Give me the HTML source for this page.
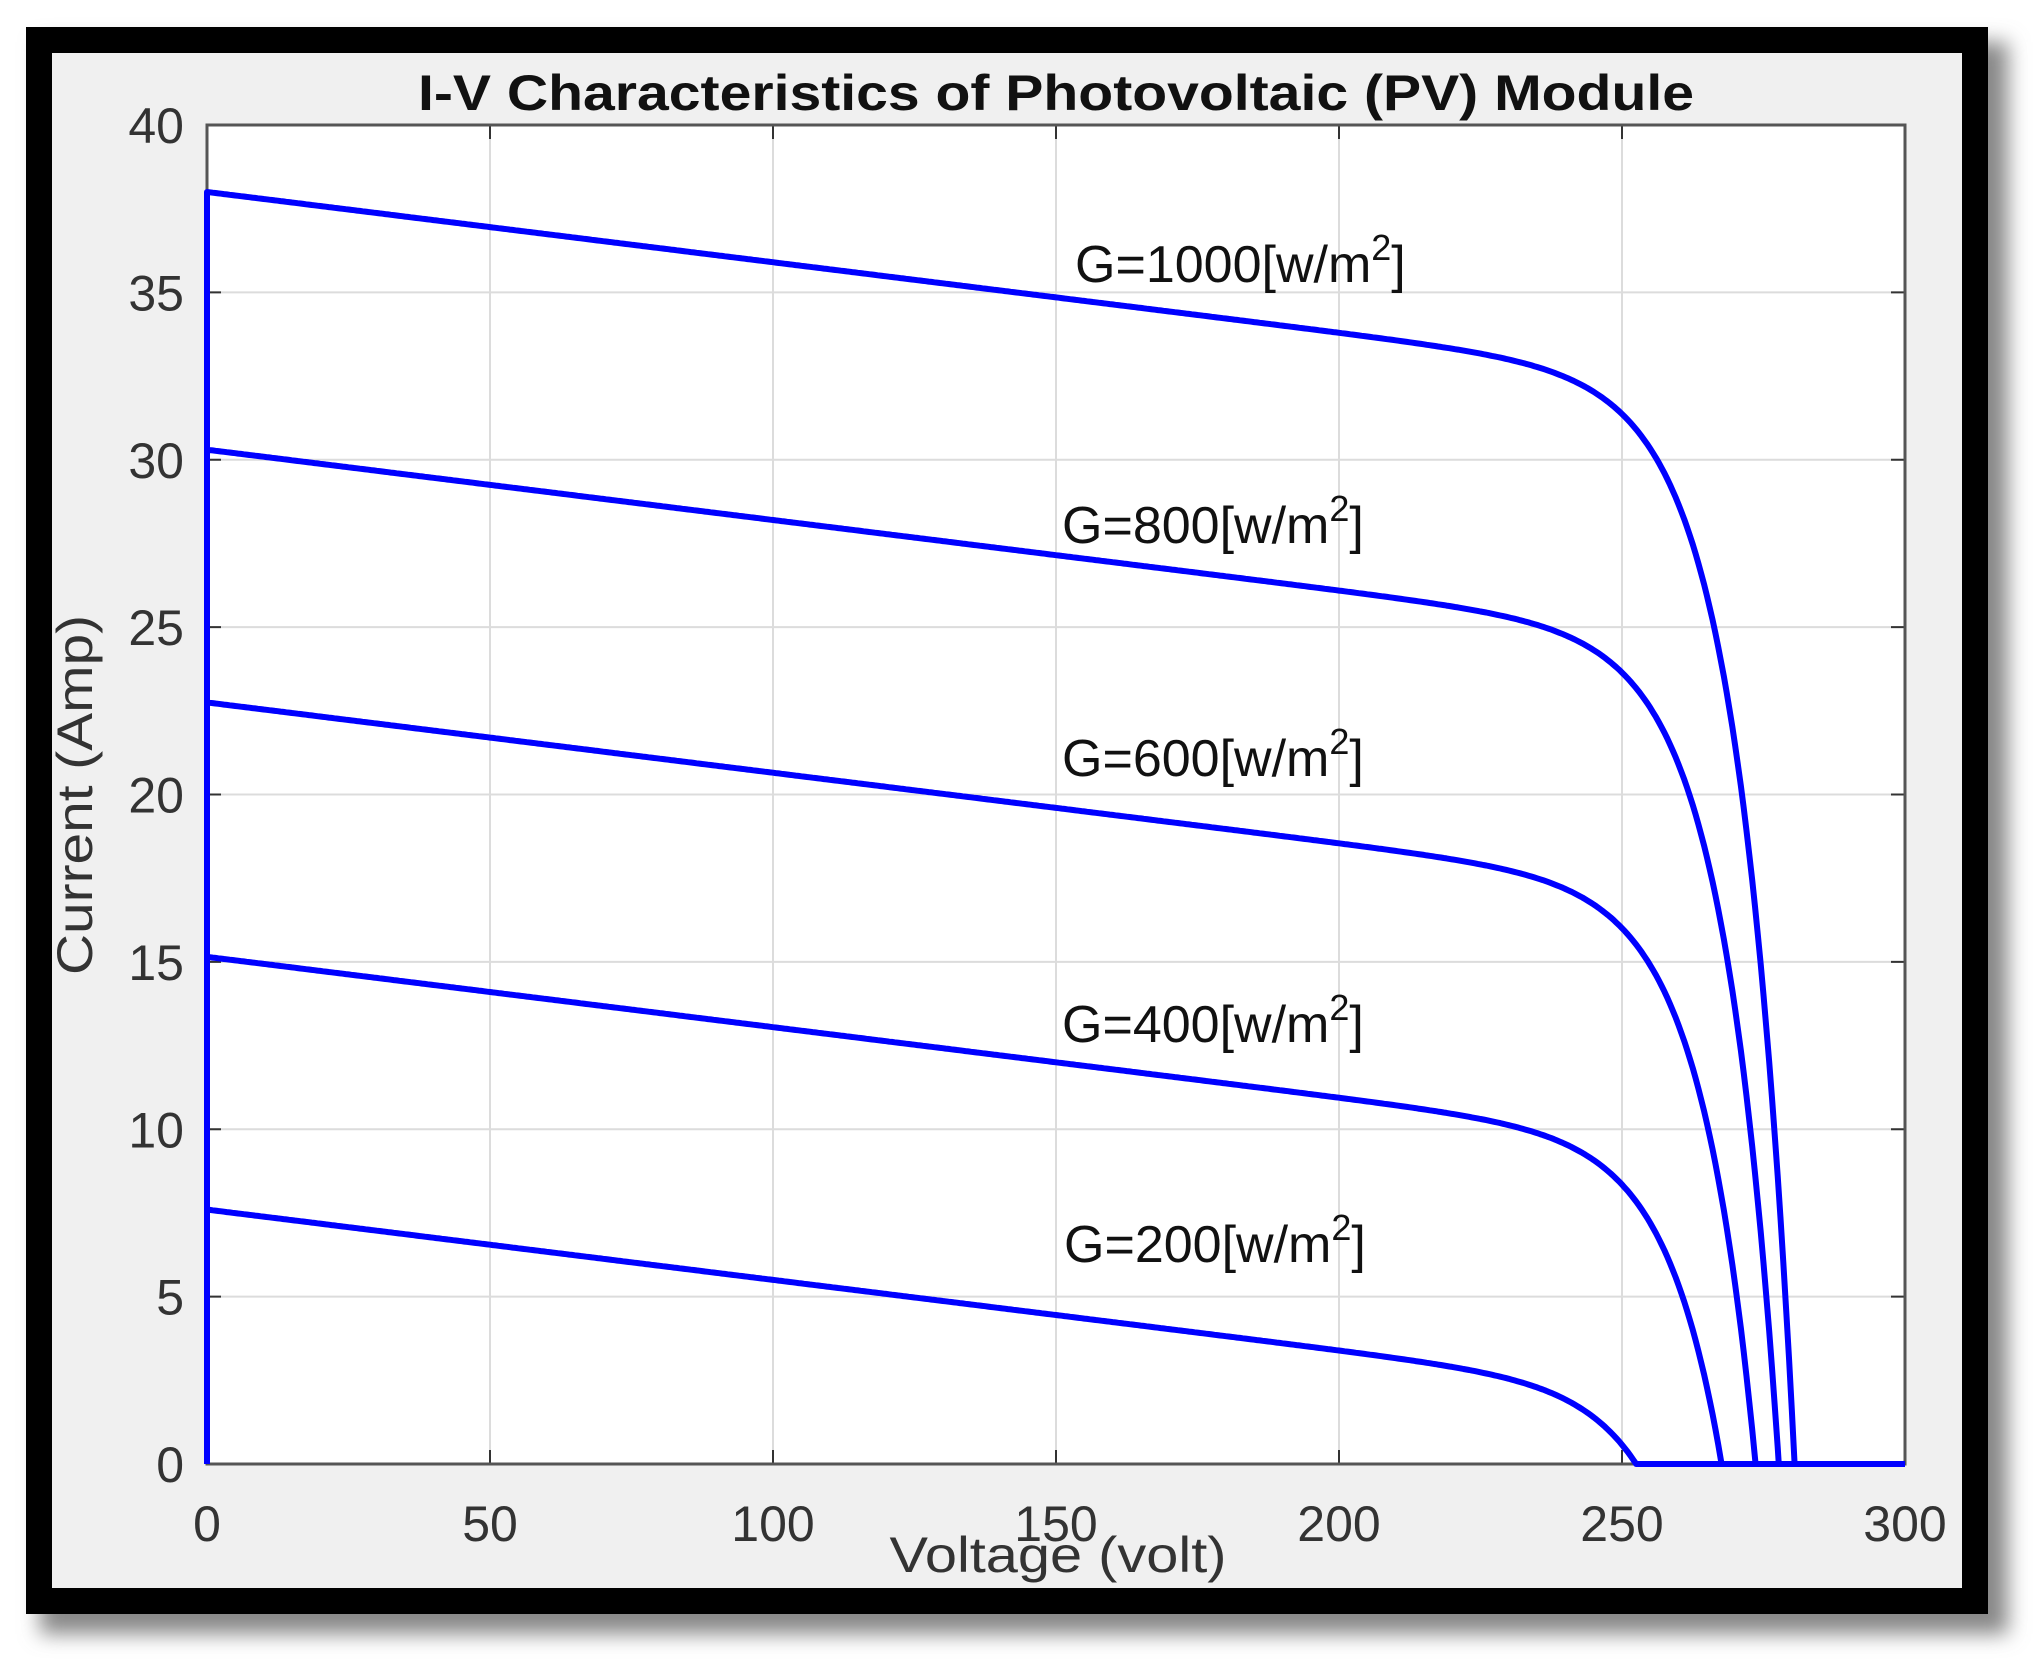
<!DOCTYPE html>
<html><head><meta charset="utf-8"><style>
html,body{margin:0;padding:0;background:#fff;}
svg{display:block;font-family:"Liberation Sans",Arial,sans-serif;}
</style></head><body>
<svg id="s" width="2035" height="1659" viewBox="0 0 2035 1659" xmlns="http://www.w3.org/2000/svg">
<defs><filter id="sh" x="-5%" y="-5%" width="115%" height="115%"><feGaussianBlur stdDeviation="10"/></filter></defs>
<rect x="40" y="42" width="1968" height="1592" fill="#888" filter="url(#sh)"/>
<rect x="26" y="27" width="1962" height="1587" fill="#000"/>
<rect x="52" y="53" width="1910" height="1535" fill="#f0f0f0"/>
<rect x="207" y="125" width="1698" height="1339" fill="#fff"/>
<g id="grid" stroke="#dcdcdc" stroke-width="2"></g>
<g id="ticks" stroke="#333" stroke-width="2"></g>
<rect x="207" y="125" width="1698" height="1339" fill="none" stroke="#555" stroke-width="3"/>
<g id="curves" fill="none" stroke="#0000ff" stroke-width="6" stroke-linejoin="round"></g>
<g id="labels" font-size="50" fill="#333"></g>
<text x="1056" y="110" font-size="50" font-weight="bold" text-anchor="middle" textLength="1276" lengthAdjust="spacingAndGlyphs" fill="#111">I-V Characteristics of Photovoltaic (PV) Module</text>
<text x="1058" y="1572" font-size="50" text-anchor="middle" textLength="337" lengthAdjust="spacingAndGlyphs" fill="#333">Voltage (volt)</text>
<text transform="translate(92,795) rotate(-90)" font-size="50" text-anchor="middle" textLength="360" lengthAdjust="spacingAndGlyphs" fill="#333">Current (Amp)</text>
<g font-size="52" fill="#111">
<text x="1075" y="282">G=1000[w/m<tspan font-size="36" dy="-22">2</tspan><tspan dy="22">]</tspan></text>
<text x="1062" y="543">G=800[w/m<tspan font-size="36" dy="-22">2</tspan><tspan dy="22">]</tspan></text>
<text x="1062" y="776">G=600[w/m<tspan font-size="36" dy="-22">2</tspan><tspan dy="22">]</tspan></text>
<text x="1062" y="1042">G=400[w/m<tspan font-size="36" dy="-22">2</tspan><tspan dy="22">]</tspan></text>
<text x="1064" y="1262">G=200[w/m<tspan font-size="36" dy="-22">2</tspan><tspan dy="22">]</tspan></text>
</g>
</svg>
<script>
var NS="http://www.w3.org/2000/svg";
function X(v){return 207+v*1698/300;}
function Y(i){return 1464-i*1339/40;}
function el(p,t,a,txt){var e=document.createElementNS(NS,t);for(var k in a)e.setAttribute(k,a[k]);if(txt!==undefined)e.textContent=txt;document.getElementById(p).appendChild(e);}
for(var v=50;v<300;v+=50){el("grid","line",{x1:X(v),y1:125,x2:X(v),y2:1464});}
for(var i=5;i<40;i+=5){el("grid","line",{x1:207,y1:Y(i),x2:1905,y2:Y(i)});}
for(var v=0;v<=300;v+=50){el("ticks","line",{x1:X(v),y1:1464,x2:X(v),y2:1450});el("ticks","line",{x1:X(v),y1:125,x2:X(v),y2:139});
 el("labels","text",{x:X(v),y:1541,"text-anchor":"middle"},String(v));}
for(var i=0;i<=40;i+=5){el("ticks","line",{x1:207,y1:Y(i),x2:221,y2:Y(i)});el("ticks","line",{x1:1905,y1:Y(i),x2:1891,y2:Y(i)});
 el("labels","text",{x:184,y:Y(i)+18,"text-anchor":"end"},String(i));}
var curves=[[38,280.5],[30.3,277.7],[22.75,273.6],[15.15,267.6],[7.6,252.5]];
var k=0.021,a=9.7;
curves.forEach(function(c){
 var isc=c[0],voc=c[1];var I0=(isc-k*voc)/(Math.exp(voc/a)-1);
 var d="M"+X(0)+","+Y(0)+" L"+X(0)+","+Y(isc);
 for(var v=0;v<=voc;v+=0.5){var I=isc-k*v-I0*(Math.exp(v/a)-1);if(I<0)I=0;d+=" L"+X(v).toFixed(1)+","+Y(I).toFixed(1);}
 d+=" L"+X(voc)+","+Y(0)+" L"+X(300)+","+Y(0);
 el("curves","path",{d:d});
});
</script>
</body></html>
